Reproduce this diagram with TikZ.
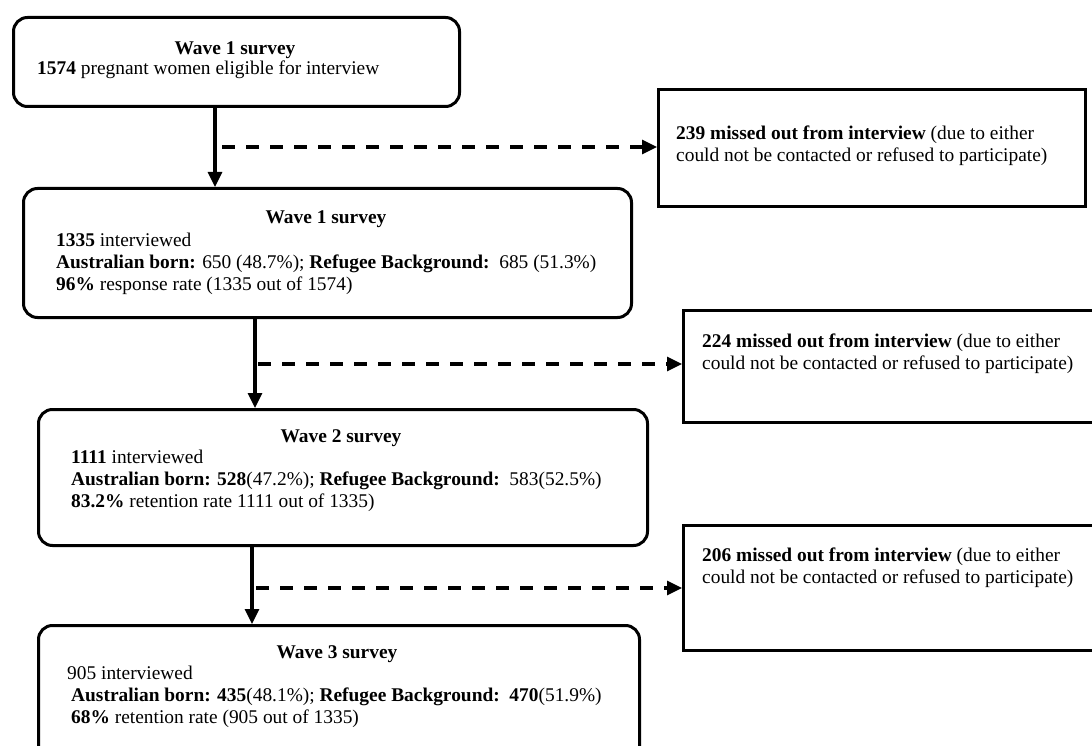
\documentclass[tikz,border=0pt]{standalone}
\usepackage{fontspec}
\setmainfont{Liberation Serif}
\usetikzlibrary{arrows.meta}

\tikzset{
    wave/.style={draw, line width=3pt, rounded corners=14pt, anchor=north west, inner sep=0pt},
    missed/.style={draw, line width=3pt, anchor=north west, inner sep=0pt},
    wavetitle/.style={anchor=base, inner sep=0pt},
    wavebody/.style={anchor=base west, inner sep=0pt, align=left},
    flow/.style={line width=3.2pt, -{Triangle[length=15pt,width=14pt]}},
    lost/.style={flow, dash pattern=on 13pt off 11pt},
}

\begin{document}
\begin{tikzpicture}[x=1pt, y=-1pt, every node/.style={font=\fontsize{19.4}{22}\selectfont}]
        \useasboundingbox (0,0) rectangle (1092,746);
        \clip (0,0) rectangle (1092,746);

        % Survey boxes
        \node[wave, minimum width=446, minimum height=89] (w0) at (12,16) {};
        \node[wave, minimum width=608, minimum height=129] (w1) at (22,187) {};
        \node[wave, minimum width=609, minimum height=136] (w2) at (37,408) {};
        \node[wave, minimum width=601, minimum height=150] (w3) at (37,624) {};

        % Texts (a block sits on the baseline of its last line)
        \node[wavetitle] (t0) at (235,55) {\textbf{Wave 1 survey}};
        \node[wavebody] (b0) at (37,75) {\textbf{1574} pregnant women eligible for interview};

        \node[wavetitle] (t1) at (326,223) {\textbf{Wave 1 survey}};
        \node[wavebody] (b1) at (56,290) {\textbf{1335} interviewed\\
            \textbf{Australian born:} 650 (48.7\%); \textbf{Refugee Background:}\ \ 685 (51.3\%)\\
            \textbf{96\%} response rate (1335 out of 1574)};

        \node[wavetitle] (t2) at (341,442) {\textbf{Wave 2 survey}};
        \node[wavebody] (b2) at (71,507) {\textbf{1111} interviewed\\
            \textbf{Australian born: 528}(47.2\%); \textbf{Refugee Background:}\ \ 583(52.5\%)\\
            \textbf{83.2\%} retention rate 1111 out of 1335)};

        \node[wavetitle] (t3) at (337,658) {\textbf{Wave 3 survey}};
        \node[wavebody] (b3) at (67,679) {905 interviewed};
        \node[wavebody] (b3a) at (71,723) {\textbf{Australian born: 435}(48.1\%); \textbf{Refugee Background:}\ \ \textbf{470}(51.9\%)\\
            \textbf{68\%} retention rate (905 out of 1335)};

        % Missed boxes
        \node[missed, minimum width=427, minimum height=117] (m1) at (657,88) {};
        \node[missed, minimum width=430, minimum height=112] (m2) at (682,309) {};
        \node[missed, minimum width=430, minimum height=125] (m3) at (682,524) {};

        \node[wavebody] (n1) at (676,162) {\textbf{239 missed out from interview} (due to either\\
            could not be contacted or refused to participate)};
        \node[wavebody] (n2) at (702,369) {\textbf{224 missed out from interview} (due to either\\
            could not be contacted or refused to participate)};
        \node[wavebody] (n3) at (702,583) {\textbf{206 missed out from interview} (due to either\\
            could not be contacted or refused to participate)};

        % Arrows
        \coordinate (a1) at (215,0);
        \coordinate (a2) at (255,0);
        \coordinate (a3) at (252,0);
        \draw[flow] (w0.south -| a1) -- (w1.north -| a1);
        \draw[flow] (w1.south -| a2) -- (w2.north -| a2);
        \draw[flow] (w2.south -| a3) -- (w3.north -| a3);

        \coordinate (d1) at (222,147);
        \coordinate (d2) at (258,364);
        \coordinate (d3) at (256,588);
        \draw[lost] (d1) -- (d1 -| m1.west);
        \draw[lost] (d2) -- (d2 -| m2.west);
        \draw[lost] (d3) -- (d3 -| m3.west);
\end{tikzpicture}
\end{document}
